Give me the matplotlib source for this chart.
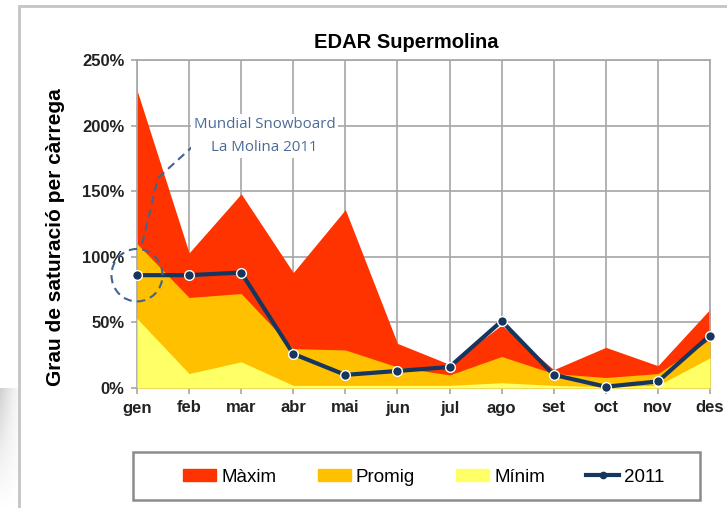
import numpy as np
import matplotlib.pyplot as plt
from matplotlib.patches import Ellipse, Rectangle, Patch
from matplotlib.lines import Line2D

# Data
mesos = ["gen", "feb", "mar", "abr", "mai", "jun", "jul", "ago", "set", "oct", "nov", "des"]
maxim = [227, 103, 148, 88, 136, 34, 18, 48, 14, 31, 17, 60]
promig = [110, 69, 72, 30, 29, 16, 10, 24, 11, 8, 11, 37]
minim = [53, 11, 20, 2, 2, 2, 2, 4, 2, 1, 2, 23]
any2011 = [86, 86, 88, 26, 10, 13, 16, 51, 10, 1, 5, 40]

plt.rcParams['font.family'] = ['Liberation Sans', 'DejaVu Sans']

fig = plt.figure(figsize=(7.27, 5.08), dpi=100)
fig.patch.set_facecolor('white')

# grey shading strip at the bottom left (slide shadow)
bg = fig.add_axes([0, 0, 18 / 727, 120 / 508], zorder=-5)
grad = np.linspace(0, 1, 50)[:, None] * np.linspace(1, 0.3, 10)[None, :]
bg.imshow(grad, cmap='Greys', vmin=0, vmax=3.5, aspect='auto', origin='lower',
          extent=[0, 1, 0, 1])
bg.axis('off')

# outer chart frame
fig.patches.append(Rectangle((19 / 727, -0.05), 1.0, 1 - 6 / 508 + 0.05,
                             transform=fig.transFigure, fill=False,
                             edgecolor='#c4c4c4', linewidth=2))

ax = fig.add_axes([137 / 727, 120 / 508, 573 / 727, 328 / 508])
x = np.arange(len(mesos))

ax.fill_between(x, 0, maxim, color='#ff3300', linewidth=0, zorder=2)
ax.fill_between(x, 0, promig, color='#ffc000', linewidth=0, zorder=3)
ax.fill_between(x, 0, minim, color='#ffff66', linewidth=0, zorder=4)
ax.plot(x, any2011, color='#17365d', linewidth=3, marker='o', markersize=7,
        markerfacecolor='#17365d', markeredgecolor='white', markeredgewidth=1,
        zorder=6, clip_on=False)

ax.set_xlim(0, 11)
ax.set_ylim(0, 250)
ax.set_xticks(x)
ax.set_xticklabels(mesos)
ax.set_yticks(range(0, 251, 50))
ax.set_yticklabels([f"{v}%" for v in range(0, 251, 50)])
ax.grid(True, color='#a6a6a6', linewidth=1.2, zorder=1)
ax.set_axisbelow(True)
for s in ax.spines.values():
    s.set_color('#a6a6a6')
    s.set_linewidth(1.2)
ax.tick_params(axis='both', colors='#a6a6a6', labelcolor='#222222', length=4,
               width=1.2, labelsize=12, pad=5)
for lab in ax.get_xticklabels() + ax.get_yticklabels():
    lab.set_fontweight('bold')

ax.set_title("EDAR Supermolina", fontsize=14.5, fontweight='bold', pad=9, x=0.47)
ax.set_ylabel("Grau de saturació per càrrega", fontsize=15, fontweight='bold',
              va='center')
ax.yaxis.set_label_coords(-0.143, 0.46)

# annotation: dashed circle around January and callout
circ = Ellipse((0, 86), width=0.98, height=40, fill=False, edgecolor='#44638f',
               linestyle=(0, (4, 2.5)), linewidth=1.5, zorder=7, clip_on=False)
ax.add_patch(circ)
ax.plot([0.1, 0.4, 1.15], [110, 160, 187], color='#44638f', linestyle=(0, (4, 2.5)),
        linewidth=1.5, zorder=7)
ax.text(2.45, 192, "Mundial Snowboard\nLa Molina 2011", ha='center', va='center',
        color='#4a6a98', fontsize=10.8, family=['Open Sans', 'DejaVu Sans'],
        linespacing=1.75, zorder=8,
        bbox=dict(facecolor='white', edgecolor='none', pad=2))

# legend: box drawn separately, entries laid out inside it
fig.patches.append(Rectangle((133 / 727, 1 - 500 / 508), 567 / 727, 48 / 508,
                             transform=fig.transFigure, facecolor='white',
                             edgecolor='#8c8c8c', linewidth=1.8))
handles = [Patch(color='#ff3300'), Patch(color='#ffc000'), Patch(color='#ffff66'),
           Line2D([], [], color='#17365d', linewidth=3, marker='o', markersize=4.5)]
fig.legend(handles, ["Màxim", "Promig", "Mínim", "2011"], ncol=4,
           loc='center', bbox_to_anchor=(424 / 727, 1 - 477 / 508),
           fontsize=13.5, frameon=False,
           columnspacing=2.2, handlelength=1.76, handleheight=0.55,
           borderpad=0, handletextpad=0.27)

fig.savefig("out.png", dpi=100)
